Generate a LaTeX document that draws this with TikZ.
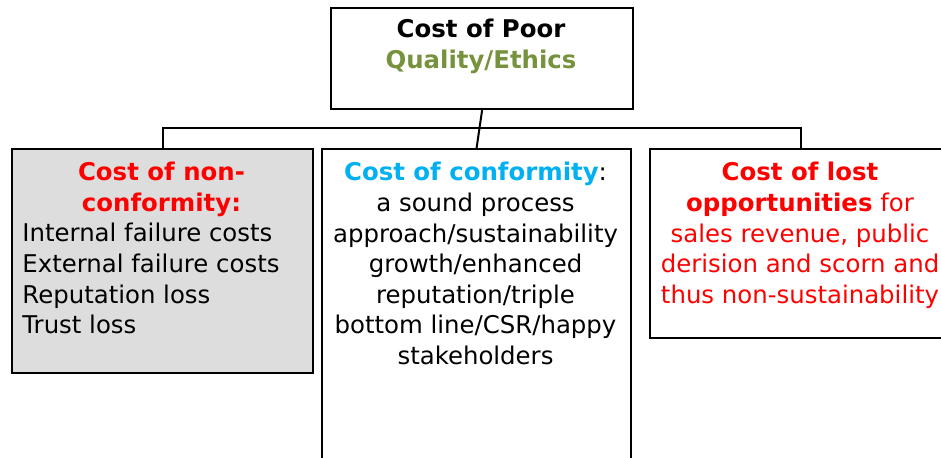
\documentclass[tikz,border=0pt]{standalone}
\usepackage{fontspec}
\setmainfont{DejaVu Sans}
\usetikzlibrary{positioning}
\definecolor{ethicsgreen}{RGB}{118,146,60}
\definecolor{conformblue}{RGB}{0,176,240}
\definecolor{boxgray}{RGB}{221,221,221}

\begin{document}
\begin{tikzpicture}[
    x=0.5pt, y=-0.5pt,
    font=\fontsize{12.2}{15.3}\selectfont,
    box/.style={rectangle,draw,line width=1.1pt,inner sep=0pt,anchor=north west},
    txt/.style={inner sep=0pt,align=center,anchor=north},
    line/.style={line width=1pt}
]
\useasboundingbox (0,0) rectangle (941,458);
\clip (0,0) rectangle (941,458);

% Top box
\node[box, minimum width=151pt, minimum height=50.5pt] (poor) at (330,7) {};
\node[txt] (poortxt) at (481,19) {\textbf{Cost of Poor}\\\textbf{\color{ethicsgreen}Quality/Ethics}};

% Three cost boxes
\node[box, fill=boxgray, minimum width=150.5pt, minimum height=112pt] (noncon) at (11,148) {};
\node[box, minimum width=154.5pt, minimum height=161pt] (conf) at (321,148) {};
\node[box, minimum width=151pt, minimum height=94.5pt] (lost) at (649,148) {};

% Texts
\node[txt] (nontitle) at (161.5,162) {\textbf{\color{red}Cost of non-}\\\textbf{\color{red}conformity:}};
\node[inner sep=0pt, align=left, anchor=north west] (nonlist) at (22,223)
    {Internal failure costs\\External failure costs\\Reputation loss\\Trust loss};
\node[txt] (conftxt) at (475.5,162) {\textbf{\color{conformblue}Cost of conformity}:\\a sound process\\approach/sustainability\\growth/enhanced\\reputation/triple\\bottom line/CSR/happy\\stakeholders};
\node[txt, text=red] (losttxt) at (800,162) {\textbf{Cost of lost}\\\textbf{opportunities} for\\sales revenue, public\\derision and scorn and\\thus non-sustainability};

% Connectors
\draw[line] (poor.south) -- (conf.north);
\draw[line] (noncon.north) -- ++(0,-20) -| (lost.north);

\end{tikzpicture}
\end{document}
